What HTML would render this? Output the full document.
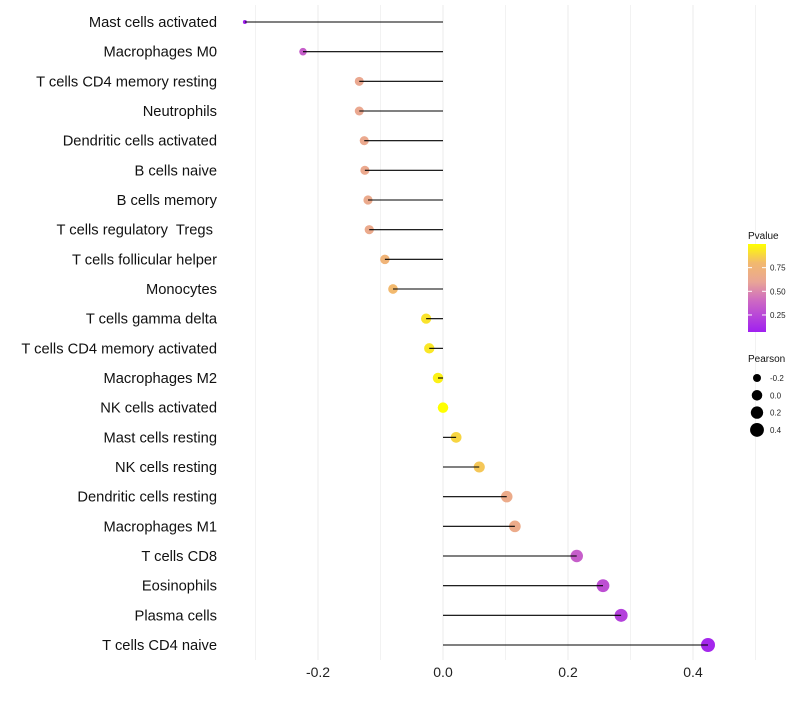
<!DOCTYPE html>
<html><head><meta charset="utf-8"><style>
body{margin:0;background:#fff;font-family:"Liberation Sans",sans-serif}
text{white-space:pre}
</style></head><body>
<svg id="chart" width="800" height="700" xmlns="http://www.w3.org/2000/svg" font-family="Liberation Sans, sans-serif"></svg>
<script>
const categories=["Mast cells activated","Macrophages M0","T cells CD4 memory resting","Neutrophils","Dendritic cells activated","B cells naive","B cells memory","T cells regulatory  Tregs ","T cells follicular helper","Monocytes","T cells gamma delta","T cells CD4 memory activated","Macrophages M2","NK cells activated","Mast cells resting","NK cells resting","Dendritic cells resting","Macrophages M1","T cells CD8","Eosinophils","Plasma cells","T cells CD4 naive"];
const pearson=[-0.317,-0.224,-0.134,-0.134,-0.126,-0.125,-0.12,-0.118,-0.093,-0.08,-0.027,-0.022,-0.008,0.0,0.021,0.058,0.102,0.115,0.214,0.256,0.285,0.424];
const pvalue=[0.08,0.35,0.63,0.63,0.64,0.64,0.65,0.65,0.75,0.8,0.92,0.93,0.96,1.0,0.88,0.84,0.66,0.66,0.35,0.28,0.22,0.1];
const xTicks=[-0.2,0.0,0.2,0.4];
const xTickLabels=["-0.2","0.0","0.2","0.4"];
const xMinor=[-0.3,-0.1,0.1,0.3,0.5];
const pTicks=[0.25,0.5,0.75];
const pTickLabels=["0.25","0.50","0.75"];
const sizeVals=[-0.2,0.0,0.2,0.4];
const sizeLabels=["-0.2","0.0","0.2","0.4"];

const svg=document.getElementById('chart');
const NS="http://www.w3.org/2000/svg";
const x=v=>443+v*625;
const y=i=>22+i*(623/21);
const rad=v=>2+5*Math.sqrt(Math.max(0,(v+0.317)/0.741));
const stops=[[0.07,[160,32,240]],[0.4,[205,105,195]],[0.6,[233,165,150]],[0.8,[242,185,110]],[1.0,[255,255,0]]];
function col(p){
  if(p<=stops[0][0])return `rgb(${stops[0][1]})`;
  for(let k=1;k<stops.length;k++){if(p<=stops[k][0]){const a=stops[k-1],b=stops[k];const t=(p-a[0])/(b[0]-a[0]);return `rgb(${a[1].map((c,j)=>Math.round(c+(b[1][j]-c)*t)).join(',')})`;}}
  return 'rgb(255,255,0)';
}
function mk(t,attrs,parent){const e=document.createElementNS(NS,t);for(const k in attrs)e.setAttribute(k,attrs[k]);(parent||svg).appendChild(e);return e;}

xMinor.forEach(v=>{
  const l=mk('line',{x1:x(v),x2:x(v),y1:5,y2:660,stroke:'#f2f2f2','stroke-width':1});
  
  
});
xTicks.forEach((v,i)=>{
  const l=mk('line',{x1:x(v),x2:x(v),y1:5,y2:660,stroke:'#ebebeb','stroke-width':1});
  
  
  const t=mk('text',{x:x(v),y:677,'text-anchor':'middle','font-size':14,fill:'#222'});
  t.textContent=xTickLabels[i];
  
  
});
categories.forEach((c,i)=>{
  const t=mk('text',{x:217,y:y(i)+5,'text-anchor':'end','font-size':14.7,fill:'#111'});
  t.textContent=c;
  
  
  const p=mk('circle',{cx:x(pearson[i]),cy:y(i),r:rad(pearson[i]),fill:col(pvalue[i])});
  
  
  const l=mk('line',{x1:x(0),x2:x(pearson[i]),y1:y(i),y2:y(i),stroke:'#000','stroke-width':1.1});
  
  
});
const lt=mk('text',{x:748,y:239,'font-size':10,fill:'#111'});lt.textContent='Pvalue';


const defs=mk('defs',{});
const g=mk('linearGradient',{id:'pg',x1:0,y1:1,x2:0,y2:0},defs);
stops.forEach(s=>mk('stop',{offset:(s[0]-0.07)/0.93,'stop-color':`rgb(${s[1]})`},g));
const pToY=p=>332-(p-0.07)/0.93*88;
const cb=mk('rect',{x:748,y:244,width:18,height:88,fill:'url(#pg)'});


pTicks.forEach((p,i)=>{
  mk('line',{x1:748,x2:752,y1:pToY(p),y2:pToY(p),stroke:'#fff'});
  mk('line',{x1:762,x2:766,y1:pToY(p),y2:pToY(p),stroke:'#fff'});
  const t=mk('text',{x:770,y:pToY(p)+3,'font-size':8,fill:'#222'});t.textContent=pTickLabels[i];
  
  
});
const st=mk('text',{x:748,y:362,'font-size':10,fill:'#111'});st.textContent='Pearson';


sizeVals.forEach((v,i)=>{
  const yy=378+i*17.3;
  const c=mk('circle',{cx:757,cy:yy,r:rad(v),fill:'#000'});
  
  
  const t=mk('text',{x:770,y:yy+3,'font-size':8,fill:'#222'});t.textContent=sizeLabels[i];
  
  
});
</script>
</body></html>
